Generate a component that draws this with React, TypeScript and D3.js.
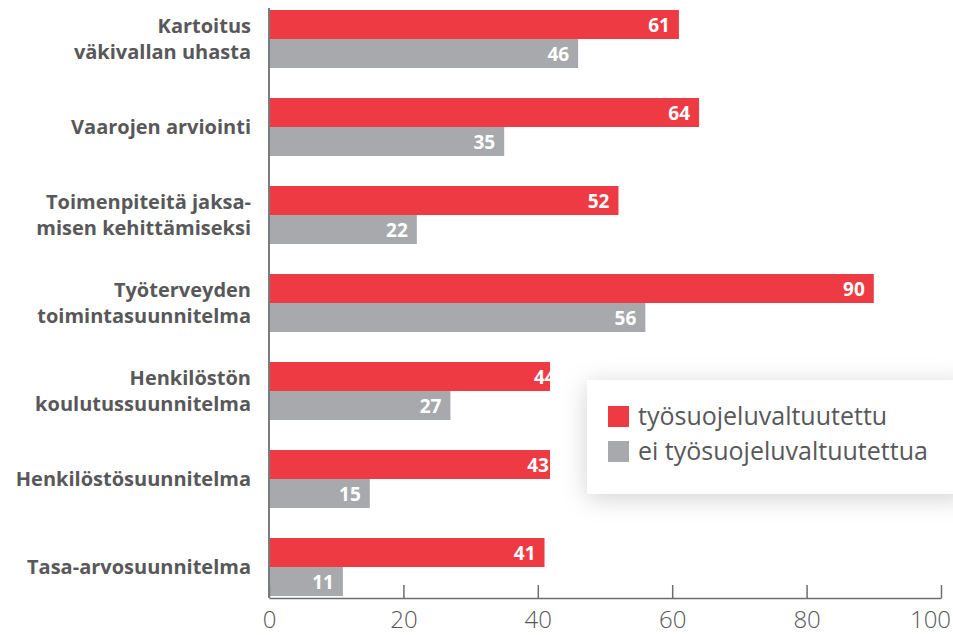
import { useEffect, useRef } from "react";
import * as d3 from "d3";

const WIDTH = 953;
const HEIGHT = 635;

const categories = [
  "Kartoitus\nväkivallan uhasta",
  "Vaarojen arviointi",
  "Toimenpiteitä jaksa-\nmisen kehittämiseksi",
  "Työterveyden\ntoimintasuunnitelma",
  "Henkilöstön\nkoulutussuunnitelma",
  "Henkilöstösuunnitelma",
  "Tasa-arvosuunnitelma",
];

const seriesNames = ["työsuojeluvaltuutettu", "ei työsuojeluvaltuutettua"];
const withRep = [61, 64, 52, 90, 44, 43, 41];
const withoutRep = [46, 35, 22, 56, 27, 15, 11];
const xTicks = [0, 20, 40, 60, 80, 100];

const RED = "#ee3a43";
const GRAY = "#a8a9ac";
const TEXT = "#58585a";
const FONT = "'Open Sans', 'DejaVu Sans', sans-serif";

export default function App() {
  const svgRef = useRef<SVGSVGElement | null>(null);

  useEffect(() => {
    if (!svgRef.current) return;
    const svg = d3.select(svgRef.current);
    svg.selectAll("*").remove();

    const x = d3.scaleLinear().domain([0, 100]).range([269, 941]);
    const y = d3
      .scaleBand<string>()
      .domain(categories)
      .range([10, 596])
      .paddingInner(30 / 88)
      .paddingOuter(0);
    const inner = d3
      .scaleBand<string>()
      .domain(seriesNames)
      .range([0, y.bandwidth()]);
    const color = d3.scaleOrdinal<string, string>().domain(seriesNames).range([RED, GRAY]);

    const defs = svg.append("defs");
    const filter = defs
      .append("filter")
      .attr("id", "legend-shadow")
      .attr("x", "-30%")
      .attr("y", "-60%")
      .attr("width", "160%")
      .attr("height", "220%");
    filter
      .append("feDropShadow")
      .attr("dx", 0)
      .attr("dy", 4)
      .attr("stdDeviation", 12)
      .attr("flood-color", "#000")
      .attr("flood-opacity", 0.18);

    const rows = categories.map((c, i) => ({
      cat: c,
      values: [
        { key: seriesNames[0], value: withRep[i] },
        { key: seriesNames[1], value: withoutRep[i] },
      ],
    }));

    const groups = svg
      .append("g")
      .selectAll("g")
      .data(rows)
      .join("g")
      .attr("transform", (d) => `translate(0,${y(d.cat)})`);

    groups
      .selectAll("rect")
      .data((d) => d.values)
      .join("rect")
      .attr("x", x(0))
      .attr("y", (d) => inner(d.key)!)
      .attr("width", (d) => x(d.value) - x(0))
      .attr("height", inner.bandwidth())
      .attr("fill", (d) => color(d.key));

    groups
      .selectAll("text.val")
      .data((d) => d.values)
      .join("text")
      .attr("class", "val")
      .attr("x", (d) => x(d.value) - 9)
      .attr("y", (d) => inner(d.key)! + inner.bandwidth() / 2 + 7)
      .attr("text-anchor", "end")
      .attr("fill", "#fff")
      .style("font-family", FONT)
      .style("font-weight", 700)
      .style("font-size", "19px")
      .text((d) => d.value);

    // category labels
    groups
      .append("text")
      .attr("text-anchor", "end")
      .attr("fill", TEXT)
      .style("font-family", FONT)
      .style("font-weight", 700)
      .style("font-size", "20px")
      .each(function (d) {
        const lines = d.cat.split("\n");
        const mid = y.bandwidth() / 2;
        const lh = 26;
        const start = mid - ((lines.length - 1) * lh) / 2 + 7;
        d3.select(this)
          .selectAll("tspan")
          .data(lines)
          .join("tspan")
          .attr("x", 251)
          .attr("y", (_l, i) => start + i * lh)
          .text((l) => l);
      });

    // bottom axis
    const axis = svg
      .append("g")
      .attr("transform", `translate(0,598)`)
      .call(
        d3
          .axisBottom(x)
          .tickValues(xTicks)
          .tickSize(-13)
          .tickSizeOuter(0)
          .tickPadding(13)
      );
    axis.select(".domain").attr("stroke", "#6d6e70").attr("stroke-width", 1.5);
    axis.selectAll(".tick line").attr("stroke", "#6d6e70").attr("stroke-width", 1.5);
    axis
      .selectAll<SVGTextElement, number>(".tick text")
      .attr("fill", TEXT)
      .attr("x", (d) => (d === 100 ? -11 : 0))
      .style("font-family", FONT)
      .style("font-size", "24px")
      .style("font-weight", 300);

    // vertical axis line
    svg
      .append("line")
      .attr("x1", x(0))
      .attr("x2", x(0))
      .attr("y1", 8)
      .attr("y2", 598)
      .attr("stroke", "#7a7b7d")
      .attr("stroke-width", 2);

    // legend with its white backdrop
    svg
      .append("rect")
      .attr("x", 550)
      .attr("y", 352)
      .attr("width", WIDTH - 550)
      .attr("height", 168)
      .attr("fill", "#fff");
    svg
      .append("rect")
      .attr("x", 587)
      .attr("y", 380)
      .attr("width", 380)
      .attr("height", 114)
      .attr("fill", "#fff")
      .attr("filter", "url(#legend-shadow)");

    const legend = svg
      .append("g")
      .selectAll("g")
      .data(seriesNames)
      .join("g")
      .attr("transform", (_d, i) => `translate(608,${406 + i * 35})`);
    legend
      .append("rect")
      .attr("width", 21)
      .attr("height", 21)
      .attr("fill", (d) => color(d));
    legend
      .append("text")
      .attr("x", 30)
      .attr("y", 19)
      .attr("fill", TEXT)
      .style("font-family", FONT)
      .style("font-size", "25px")
      .style("font-weight", 400)
      .text((d) => d);
  }, []);

  return (
    <svg
      ref={svgRef}
      width={WIDTH}
      height={HEIGHT}
      style={{ position: "absolute", left: 0, top: 0, background: "#fff" }}
    />
  );
}
